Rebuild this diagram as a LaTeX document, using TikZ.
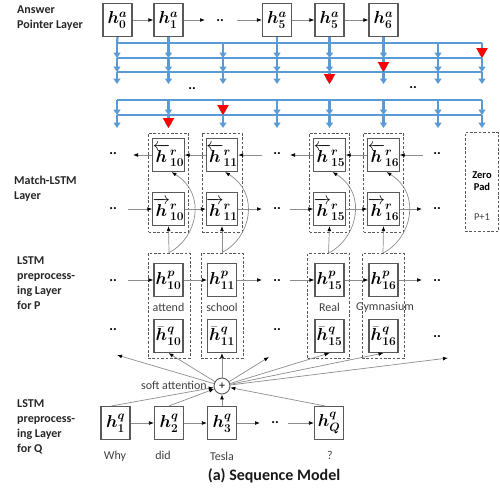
\documentclass[tikz,border=0pt]{standalone}
\usepackage{amsmath}
\usepackage{bm}
\usepackage{fontspec}
\setmainfont{Carlito}
\usetikzlibrary{arrows.meta,calc}

\definecolor{gridblue}{HTML}{5B9BD5}
\definecolor{ptred}{HTML}{FF0000}
\definecolor{boxgray}{HTML}{595959}
\definecolor{wiregray}{HTML}{8C8C8C}
\definecolor{txtgray}{HTML}{404040}

% box labels
\newcommand{\hlab}[3]{$\bm{#1}^{\bm{#2}}_{\bm{#3}}$}
\newcommand{\hback}[1]{$\overleftarrow{\bm{h}}^{\bm{r}}_{\bm{#1}}$}
\newcommand{\hfwd}[1]{$\overrightarrow{\bm{h}}^{\bm{r}}_{\bm{#1}}$}
\newcommand{\hqbar}[1]{$\bar{\bm{h}}^{\bm{q}}_{\bm{#1}}$}

\begin{document}
\begin{tikzpicture}[x=1pt,y=-1pt,
  hbox/.style={draw=boxgray, line width=1.1pt, fill=white, minimum width=29pt,
    minimum height=33pt, inner sep=0pt, font=\fontsize{16.5}{16.5}\selectfont},
  grp/.style={draw=boxgray, line width=0.8pt, dash pattern=on 2.6pt off 1.8pt,
    inner sep=0pt},
  wire/.style={draw=wiregray, line width=0.7pt,
    -{Latex[length=5pt,width=3.8pt,color=black]}},
  curvewire/.style={draw=wiregray, line width=0.7pt,
    -{Latex[length=5pt,width=3.8pt,color=black]}},
  dots/.style={font=\bfseries\fontsize{14}{14}\selectfont, inner sep=0pt},
  layer/.style={font=\bfseries\fontsize{12}{15}\selectfont, align=left,
    anchor=north west, inner sep=0pt, text=black!85},
  word/.style={font=\fontsize{12}{12}\selectfont, text=txtgray, inner sep=0pt},
  bline/.style={draw=gridblue, line width=2.2pt},
  barrow/.style={bline, -{Triangle[length=5.5pt,width=7pt]}},
  rarrow/.style={bline, -{Triangle[length=10pt,width=11pt,color=ptred]}},
]
\useasboundingbox (0,0) rectangle (500,488);

% ---------- layer titles ----------
\node[layer] (tAP) at (17,6) {Answer\\Pointer Layer};
\node[layer] (tML) at (14,176) {Match-LSTM\\Layer};
\node[layer] (tLP) at (17,256) {LSTM\\preprocess-\\ing Layer\\for P};
\node[layer] (tLQ) at (17,399) {LSTM\\preprocess-\\ing Layer\\for Q};

% ---------- answer pointer layer ----------
\node[hbox] (a0)  at (117.5,20) {\hlab{h}{a}{0}};
\node[hbox] (a1)  at (168.5,20) {\hlab{h}{a}{1}};
\node[hbox] (a5)  at (277,20)   {\hlab{h}{a}{5}};
\node[hbox] (a5b) at (329.5,20) {\hlab{h}{a}{5}};
\node[hbox] (a6)  at (383.5,20) {\hlab{h}{a}{6}};
\coordinate (aE) at (205,20);
\coordinate (aS) at (237,20);
\node[dots] (ad) at (220,21) {..};
\draw[wire] (a0) -- (a1);
\draw[wire] (a1) -- (aE);
\draw[wire] (aS) -- (a5);
\draw[wire] (a5) -- (a5b);
\draw[wire] (a5b) -- (a6);

% pointer grid: columns x rows
\foreach \c [count=\i] in {117,168.5,223,277,329.5,383.5,438,482} {
  \foreach \r [count=\j] in {43,58,72,84,100,115,128}
    \coordinate (g\i-\j) at (\c,\r);
}
\foreach \j in {1,2,3,5,6}
  \draw[bline] (g1-\j) -- (g8-\j);
\foreach \i in {1,...,8} {
  \draw[barrow] (g\i-1) -- (g\i-2);
  \draw[barrow] (g\i-2) -- (g\i-3);
  \draw[barrow] (g\i-3) -- (g\i-4);
  \draw[barrow] (g\i-5) -- (g\i-6);
  \draw[barrow] (g\i-6) -- (g\i-7);
}
\draw[bline] (a0.south) -- (g1-1);
\draw[bline] (a1.south) -- (g2-1);
\draw[bline] (a5.south) -- (g4-1);
\draw[bline] (a5b.south) -- (g5-1);
\draw[bline] (a6.south) -- (g6-1);
% selected positions
\draw[rarrow] (g8-1) -- (g8-2);
\draw[rarrow] (g6-2) -- (g6-3);
\draw[rarrow] (g5-3) -- (g5-4);
\draw[rarrow] (g3-5) -- (g3-6);
\draw[rarrow] (g2-6) -- (g2-7);
\node[dots] (gd1) at (192,89) {..};
\node[dots] (gd2) at (413,88) {..};

% ---------- match-LSTM layer ----------
\node[grp, minimum width=40pt, minimum height=99pt] (m10) at (168.5,182.5) {};
\node[grp, minimum width=40pt, minimum height=99pt] (m11) at (222,182.5) {};
\node[grp, minimum width=40pt, minimum height=99pt] (m15) at (329.5,182.5) {};
\node[grp, minimum width=40pt, minimum height=99pt] (m16) at (383.5,182.5) {};
\node[grp, minimum width=33.5pt, minimum height=99pt] (zp) at (481.75,182) {};
\node[font=\bfseries\fontsize{10.5}{12.5}\selectfont, align=center, inner sep=0pt]
  (zpt) at (482,181) {Zero\\Pad};
\node[font=\fontsize{10.5}{10.5}\selectfont, text=txtgray, inner sep=0pt]
  (zpn) at (482,217) {P+1};

\node[hbox] (rb10) at (168.5,155) {\hback{10}};
\node[hbox] (rb11) at (222,155)   {\hback{11}};
\node[hbox] (rb15) at (329.5,155) {\hback{15}};
\node[hbox] (rb16) at (383.5,155) {\hback{16}};
\node[hbox] (rf10) at (168.5,209) {\hfwd{10}};
\node[hbox] (rf11) at (222,209)   {\hfwd{11}};
\node[hbox] (rf15) at (329.5,209) {\hfwd{15}};
\node[hbox] (rf16) at (383.5,209) {\hfwd{16}};

% backward chain
\coordinate (bR) at (423,155);
\coordinate (bM1) at (290,155);
\coordinate (bM0) at (262,155);
\coordinate (bL) at (133,155);
\node[dots] (bdR) at (437,154) {..};
\node[dots] (bdM) at (277,154) {..};
\node[dots] (bdL) at (113,154) {..};
\draw[wire] (bR) -- (rb16);
\draw[wire] (rb16) -- (rb15);
\draw[wire] (rb15) -- (bM1);
\draw[wire] (bM0) -- (rb11);
\draw[wire] (rb11) -- (rb10);
\draw[wire] (rb10) -- (bL);

% forward chain
\coordinate (fL) at (128,209);
\coordinate (fM0) at (262,209);
\coordinate (fM1) at (290,209);
\coordinate (fR) at (422,209);
\node[dots] (fdL) at (113,209) {..};
\node[dots] (fdM) at (277,209) {..};
\node[dots] (fdR) at (437,209) {..};
\draw[wire] (fL) -- (rf10);
\draw[wire] (rf10) -- (rf11);
\draw[wire] (rf11) -- (fM0);
\draw[wire] (fM1) -- (rf15);
\draw[wire] (rf15) -- (rf16);
\draw[wire] (rf16) -- (fR);

% ---------- LSTM preprocessing layer for P ----------
\node[grp, minimum width=42pt, minimum height=105pt] (p10g) at (169,305.5) {};
\node[grp, minimum width=42pt, minimum height=105pt] (p11g) at (222,305.5) {};
\node[grp, minimum width=42pt, minimum height=105pt] (p15g) at (328.5,306) {};
\node[grp, minimum width=42pt, minimum height=105pt] (p16g) at (383,306) {};

\node[hbox] (p10) at (168.5,280) {\hlab{h}{p}{10}};
\node[hbox] (p11) at (222,280)   {\hlab{h}{p}{11}};
\node[hbox] (p15) at (329.5,280) {\hlab{h}{p}{15}};
\node[hbox] (p16) at (383.5,280) {\hlab{h}{p}{16}};
\node[hbox] (qb10) at (168.5,336) {\hqbar{10}};
\node[hbox] (qb11) at (222,336)   {\hqbar{11}};
\node[hbox] (qb15) at (329.5,336) {\hqbar{15}};
\node[hbox] (qb16) at (383.5,336) {\hqbar{16}};

\node[word] (w1) at (168.5,307) {attend};
\node[word] (w2) at (222,307) {school};
\node[word] (w3) at (329.5,307) {Real};
\node[word] (w4) at (385,307) {Gymnasium};

\coordinate (pL) at (128,280);
\coordinate (pM0) at (262,280);
\coordinate (pM1) at (290,280);
\coordinate (pR) at (422,280);
\node[dots] (pdL) at (113,281) {..};
\node[dots] (pdM) at (277,281) {..};
\node[dots] (pdR) at (437,281) {..};
\draw[wire] (pL) -- (p10);
\draw[wire] (p10) -- (p11);
\draw[wire] (p11) -- (pM0);
\draw[wire] (pM1) -- (p15);
\draw[wire] (p15) -- (p16);
\draw[wire] (p16) -- (pR);

\node[dots] (qdL) at (113,330) {..};
\node[dots] (qdM) at (277,330) {..};
\node[dots] (qdR) at (437,337) {..};

% P states feed both match-LSTM directions
\foreach \g/\f/\b in {p10g/rf10/rb10, p11g/rf11/rb11, p15g/rf15/rb15, p16g/rf16/rb16} {
  \draw[wire] (\g.north) -- (\f.south);
  \draw[curvewire] (\g.north) .. controls +(28,-14) and +(36,22) .. ($(\b.south)+(3,0)$);
}

% ---------- soft attention ----------
\node[circle, draw=boxgray, line width=0.9pt, fill=white, minimum size=16pt,
  inner sep=0pt, font=\fontsize{12}{12}\selectfont] (sa) at (222,386) {+};
\node[word, anchor=east] (sat) at (207,385) {soft attention};
\coordinate (tL) at (117,355);
\coordinate (tM) at (269,357);
\coordinate (tR) at (448,358);
\draw[wire] (sa) -- (tL);
\draw[wire] (sa) -- (qb10.south);
\draw[wire] (sa) -- (qb11.south);
\draw[wire] (sa) -- (tM);
\draw[wire] (sa) -- (qb15.south);
\draw[wire] (sa) -- (qb16.south);
\draw[wire] (sa) -- (tR);

% ---------- LSTM preprocessing layer for Q ----------
\node[hbox] (q1) at (115.5,423) {\hlab{h}{q}{1}};
\node[hbox] (q2) at (169,423)   {\hlab{h}{q}{2}};
\node[hbox] (q3) at (222,423)   {\hlab{h}{q}{3}};
\node[hbox] (qQ) at (329,423)   {$\bm{h}^{\bm{q}}_{\bm{Q}}$};
\coordinate (qE) at (260,423);
\coordinate (qS) at (288,423);
\node[dots] (qd) at (275,423) {..};
\draw[wire] (q1) -- (q2);
\draw[wire] (q2) -- (q3);
\draw[wire] (q3) -- (qE);
\draw[wire] (qS) -- (qQ);
\draw[wire] ($(q1.north)+(-4,0)$) -- (sa);
\draw[wire] (q2.north) -- (sa);
\draw[wire] (q3.north) -- (sa);
\draw[wire] ($(qQ.north)+(-4,0)$) -- (sa);

\node[word] (u1) at (115,456) {Why};
\node[word] (u2) at (163,455) {did};
\node[word] (u3) at (222,456) {Tesla};
\node[word] (u4) at (330,455) {?};

% ---------- caption ----------
\node[font=\bfseries\fontsize{16}{16}\selectfont, inner sep=0pt, text=black!90]
  (cap) at (274,476) {(a) Sequence Model};
\end{tikzpicture}
\end{document}
